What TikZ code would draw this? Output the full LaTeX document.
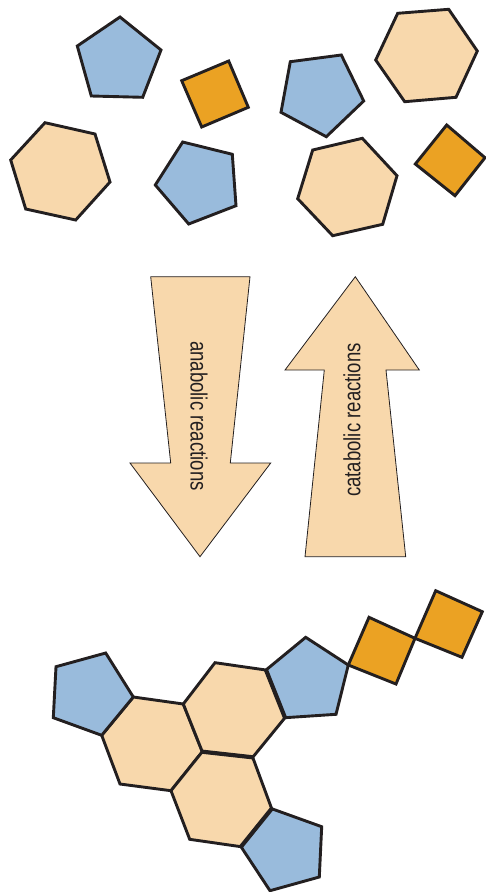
\documentclass[tikz,border=0pt]{standalone}
\usepackage{fontspec}
\setmainfont{Liberation Sans}
\definecolor{blueC}{HTML}{99BBDC}
\definecolor{orangeC}{HTML}{EBA223}
\definecolor{peachC}{HTML}{F8D8AC}
\definecolor{lineC}{HTML}{231F20}
\tikzset{
  shapeline/.style={draw=lineC, line width=2.9pt, line join=miter},
  bluepoly/.style={shapeline, fill=blueC},
  orangepoly/.style={shapeline, fill=orangeC},
  peachpoly/.style={shapeline, fill=peachC},
  thickbond/.style={draw=lineC, line width=4.2pt, line cap=butt},
  bigarrow/.style={draw=lineC, line width=0.8pt, fill=peachC, line join=miter},
  arrowtext/.style={font=\fontsize{23.5}{23.5}\selectfont, text=lineC, inner sep=0pt}
}
\begin{document}
\begin{tikzpicture}[x=1pt, y=-1pt]
\useasboundingbox (0,0) rectangle (486,892);
% ---------- top: separate molecules ----------
\draw[bluepoly] (120,17) -- (161,50) -- (142.7,97.3) -- (91.3,96) -- (77.3,46) -- cycle;
\draw[orangepoly] (181.7,80.7) -- (228.7,61) -- (248.3,107.3) -- (201.7,127) -- cycle;
\draw[peachpoly] (45,122.7) -- (95,134) -- (110,182) -- (75.7,220) -- (25.7,209) -- (10.7,160) -- cycle;
\draw[bluepoly] (182.7,142) -- (232.3,154.3) -- (236,205.7) -- (188.7,224) -- (155.3,185) -- cycle;
\draw[bluepoly] (290.3,61.7) -- (341.3,55) -- (363.7,101) -- (326.3,136.7) -- (281,112.3) -- cycle;
\draw[peachpoly] (397.7,13.3) -- (448.7,9.3) -- (477.3,51) -- (456,97.3) -- (404.7,101.7) -- (375.7,60) -- cycle;
\draw[orangepoly] (446.7,125) -- (485,157.7) -- (455,195.7) -- (415.3,164) -- cycle;
\draw[peachpoly] (312.7,150) -- (362.3,138.3) -- (397,175.7) -- (382.7,224.3) -- (332.7,235.7) -- (297.7,198.7) -- cycle;
% ---------- arrows ----------
\draw[bigarrow] (150.7,276.7) -- (250,276.7) -- (230.3,463) -- (270.7,463) -- (200,556.7) -- (130,463) -- (170.7,463) -- cycle;
\draw[bigarrow] (355.3,276.7) -- (419.3,370) -- (386,370) -- (405.7,556.7) -- (305,556.7) -- (324.3,370) -- (285,370) -- cycle;
\node[arrowtext, rotate=-90, xscale=0.79] (anab) at (199,416) {anabolic reactions};
\node[arrowtext, rotate=90, xscale=0.79] (catab) at (352,420) {catabolic reactions};
% ---------- bottom: assembled molecule ----------
\draw[peachpoly] (133.3,697) -- (183.3,704) -- (202.3,751.7) -- (171,790.7) -- (120,784) -- (101.7,735.3) -- cycle;
\draw[peachpoly] (215,662.7) -- (266,670) -- (285,717.7) -- (252.7,757.3) -- (202.3,751.7) -- (183.3,704) -- cycle;
\draw[peachpoly] (202.3,751.7) -- (252.7,757.3) -- (271.7,808.7) -- (241,846.7) -- (189.7,839.3) -- (171,790.7) -- cycle;
\draw[bluepoly] (56,666.7) -- (105.7,653) -- (133.3,697) -- (101.7,735.3) -- (53.3,717.7) -- cycle;
\draw[bluepoly] (266,670) -- (305.7,637.3) -- (348.3,665) -- (336,714.3) -- (285,717.7) -- cycle;
\draw[bluepoly] (271.7,808.7) -- (321.7,826.7) -- (319.3,877) -- (270,890.7) -- (241,846.7) -- cycle;
\draw[orangepoly] (348.3,665) -- (369,617.3) -- (415,638.3) -- (396,684) -- cycle;
\draw[orangepoly] (415,638.3) -- (435.7,590.7) -- (482.3,611.7) -- (462,657.3) -- cycle;
% shared bonds drawn heavier, as in the reference
\draw[thickbond] (202.3,751.7) -- (252.7,757.3);
\draw[thickbond] (271.7,808.7) -- (241,846.7);
\draw[thickbond] (266,670) -- (285,717.7);
\end{tikzpicture}
\end{document}
